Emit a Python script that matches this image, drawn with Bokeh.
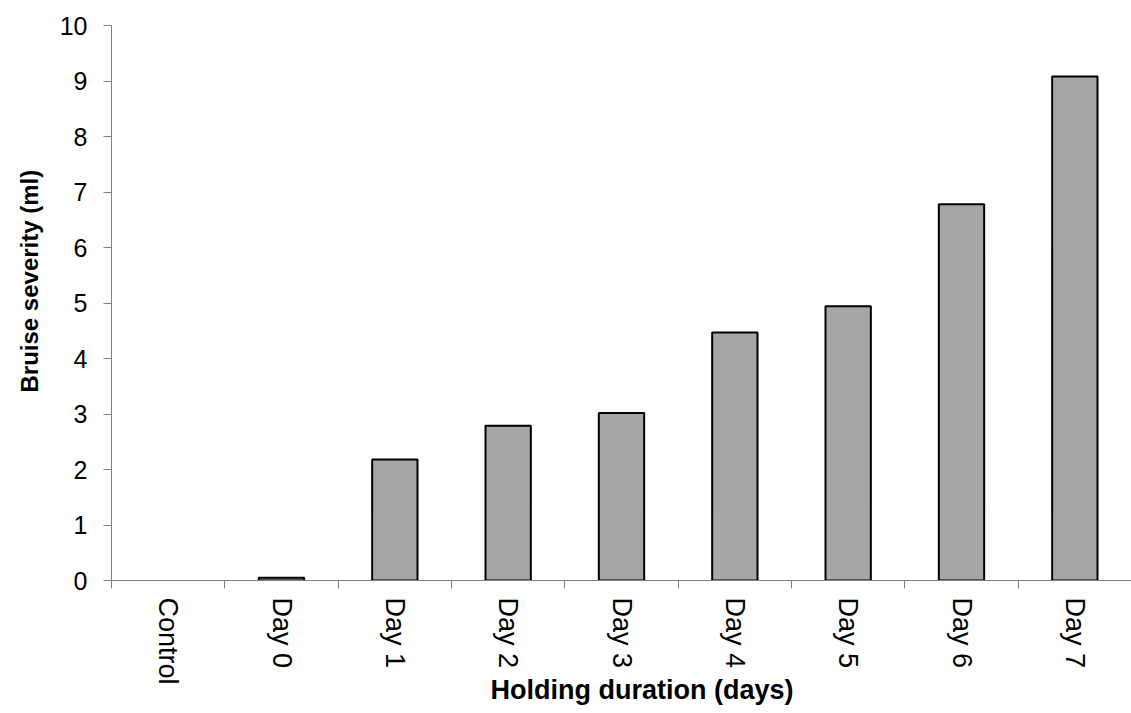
import math
from bokeh.plotting import figure
from bokeh.models import FixedTicker, ColumnDataSource, Range1d, Title
from bokeh.embed import file_html
from bokeh.resources import INLINE

categories = ["Control", "Day 0", "Day 1", "Day 2", "Day 3", "Day 4", "Day 5", "Day 6", "Day 7"]
severity = [0.0, 0.05, 2.18, 2.79, 3.02, 4.47, 4.94, 6.78, 9.08]
y_ticks = [0, 1, 2, 3, 4, 5, 6, 7, 8, 9, 10]
x_title = "Holding duration (days)"
y_title = "Bruise severity (ml)"

xs = [i + 0.5 for i in range(len(categories))]
outline = ["black" if v > 0 else None for v in severity]
src = ColumnDataSource(dict(x=xs, top=severity, lc=outline))

p = figure(width=1131, height=713, output_backend="svg", toolbar_location=None,
           x_range=Range1d(0, len(categories)), y_range=Range1d(0, 10),
           min_border_left=108, min_border_right=0, min_border_top=25, min_border_bottom=133)
p.outline_line_color = None
p.grid.grid_line_color = None
p.background_fill_color = "white"
p.border_fill_color = "white"

p.vbar(x="x", top="top", width=0.4, bottom=0, source=src,
       fill_color="#a6a6a6", line_color="lc", line_width=2)

FONT = "Liberation Sans"

xa = p.xaxis[0]
xa.ticker = FixedTicker(ticks=xs, minor_ticks=list(range(len(categories) + 1)))
xa.major_label_overrides = {x: c for x, c in zip(xs, categories)}
xa.major_tick_line_color = None
xa.minor_tick_line_color = "#808080"
xa.minor_tick_out = 8
xa.minor_tick_in = 0
xa.major_label_orientation = -math.pi / 2
xa.major_label_standoff = 9
xa.major_label_text_font = FONT
xa.major_label_text_font_size = "27px"
xa.major_label_text_color = "black"
xa.axis_line_color = "#808080"

ya = p.yaxis[0]
ya.ticker = FixedTicker(ticks=y_ticks, minor_ticks=[])
ya.axis_line_color = "#808080"
ya.major_tick_line_color = "#808080"
ya.major_tick_out = 8
ya.major_tick_in = 0
ya.major_label_standoff = 16
ya.major_label_text_font = FONT
ya.major_label_text_font_size = "25px"
ya.major_label_text_color = "black"

# axis titles, slightly off-centre like the reference
p.add_layout(Title(text=y_title, align="left", offset=188, standoff=27,
                   text_font=FONT, text_font_style="bold", text_font_size="24px",
                   text_color="black"), "left")
p.add_layout(Title(text=x_title, align="left", offset=379, standoff=-34,
                   text_font=FONT, text_font_style="bold", text_font_size="27px",
                   text_color="black"), "below")

open("out.html", "w").write(file_html(p, INLINE))
